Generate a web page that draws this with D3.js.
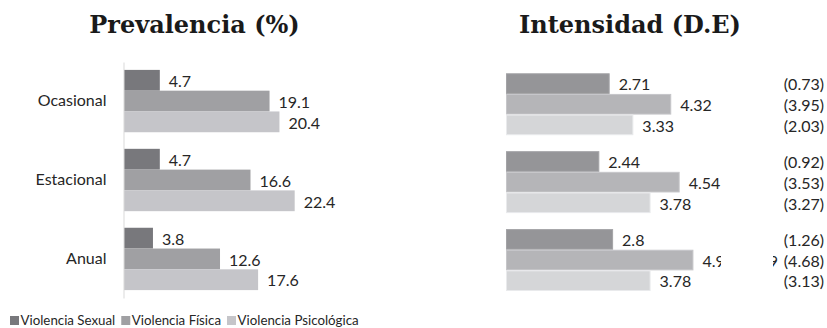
<!DOCTYPE html>
<html>
<head>
<meta charset="utf-8">
<script src="https://cdn.jsdelivr.net/npm/d3@7"></script>
<style>
  html, body { margin: 0; padding: 0; background: #ffffff; }
  svg { display: block; }
</style>
</head>
<body>
<svg id="chart" width="827" height="328"></svg>
<script>
// ---- data ----
const categories = ["Ocasional", "Estacional", "Anual"];
const series = ["Violencia Sexual", "Violencia Física", "Violencia Psicológica"];
const prevalencia = [
  [4.7, 19.1, 20.4],   // Ocasional
  [4.7, 16.6, 22.4],   // Estacional
  [3.8, 12.6, 17.6]    // Anual
];
const intensidad = [
  [2.71, 4.32, 3.33],
  [2.44, 4.54, 3.78],
  [2.8, 4.9, 3.78]
];
const intensidadLabels = [
  ["2.71", "4.32", "3.33"],
  ["2.44", "4.54", "3.78"],
  ["2.8", "4.9", "3.78"]
];
const desviacion = [
  ["(0.73)", "(3.95)", "(2.03)"],
  ["(0.92)", "(3.53)", "(3.27)"],
  ["(1.26)", "(4.68)", "(3.13)"]
];
const titles = ["Prevalencia (%)", "Intensidad (D.E)"];

// ---- styles ----
const leftColors = ["#78787c", "#a0a0a3", "#c5c5c9"];
const rightColors = ["#959598", "#b5b5b8", "#d5d6d8"];
const textFont = "Lato, 'Open Sans', sans-serif";
const labelSize = 16;

const svg = d3.select("#chart");

// ---- titles ----
svg.append("text").attr("x", 194.5).attr("y", 33).attr("text-anchor", "middle")
  .style("font-family", "'DejaVu Serif', serif").style("font-weight", "bold")
  .style("font-size", "24px").attr("fill", "#1a1a1a").text(titles[0]);
svg.append("text").attr("x", 630).attr("y", 33).attr("text-anchor", "middle")
  .style("font-family", "'DejaVu Serif', serif").style("font-weight", "bold")
  .style("font-size", "24px").attr("fill", "#1a1a1a").text(titles[1]);

// ---- left chart ----
const xL = d3.scaleLinear().domain([0, 25]).range([124, 124 + 25 * 7.62]);
const yL = d3.scaleBand().domain(categories).range([62, 298]).paddingInner(0.21).paddingOuter(0.1);
const sL = d3.scaleBand().domain(series).range([0, yL.bandwidth()]);

const gL = svg.append("g");
categories.forEach((c, ci) => {
  series.forEach((s, si) => {
    const v = prevalencia[ci][si];
    const y0 = yL(c) + sL(s);
    gL.append("rect").attr("x", xL(0)).attr("y", y0)
      .attr("width", xL(v) - xL(0)).attr("height", sL.bandwidth())
      .attr("fill", leftColors[si]);
    gL.append("text").attr("x", xL(v) + 9).attr("y", y0 + sL.bandwidth() / 2 + labelSize * 0.36 + 1)
      .style("font-family", textFont).style("font-size", labelSize + "px")
      .attr("fill", "#262626").text(v.toFixed(1));
  });
});
const axL = svg.append("g").attr("transform", `translate(${xL(0) - 0.5},0)`)
  .call(d3.axisLeft(yL).tickSize(0).tickPadding(17));
axL.select(".domain").attr("stroke", "#d9d9d9");
axL.selectAll("text").style("font-family", textFont).style("font-size", labelSize + "px").attr("fill", "#262626");

// ---- right chart ----
const xR = d3.scaleLinear().domain([0, 5]).range([506, 506 + 5 * 38.25]);
const yR = d3.scaleBand().domain(categories).range([65.5, 298.8]).paddingInner(0.205).paddingOuter(0.1);
const sR = d3.scaleBand().domain(series).range([0, yR.bandwidth()]);

const defs = svg.append("defs");
defs.append("clipPath").attr("id", "clipA").append("rect").attr("x", 0).attr("y", 0).attr("width", 721).attr("height", 328);
defs.append("clipPath").attr("id", "clipB").append("rect").attr("x", 773).attr("y", 0).attr("width", 5).attr("height", 328);

const gR = svg.append("g");
categories.forEach((c, ci) => {
  series.forEach((s, si) => {
    const v = intensidad[ci][si];
    const y0 = yR(c) + sR(s);
    const cy = y0 + sR.bandwidth() / 2 + labelSize * 0.36 + 1;
    gR.append("rect").attr("x", xR(0) + 0.5).attr("y", y0 + 0.5)
      .attr("width", xR(v) - xR(0) - 1).attr("height", sR.bandwidth() - 1)
      .attr("fill", rightColors[si]).attr("stroke", d3.color(rightColors[si]).brighter(0.25)).attr("stroke-width", 1);
    const lab = gR.append("text").attr("x", xR(v) + 9).attr("y", cy)
      .style("font-family", textFont).style("font-size", labelSize + "px")
      .attr("fill", "#262626").text(intensidadLabels[ci][si]);
    if (ci === 2 && si === 1) {
      lab.attr("clip-path", "url(#clipA)");
      gR.append("text").attr("x", 778).attr("y", cy).attr("text-anchor", "end")
        .attr("clip-path", "url(#clipB)")
        .style("font-family", textFont).style("font-size", labelSize + "px")
        .attr("fill", "#262626").text("9");
    }
    gR.append("text").attr("x", 824).attr("y", cy).attr("text-anchor", "end")
      .style("font-family", textFont).style("font-size", labelSize + "px")
      .attr("fill", "#262626").text(desviacion[ci][si]);
  });
});

// ---- legend ----
const leg = svg.append("g");
let lx = 10;
series.forEach((s, si) => {
  leg.append("rect").attr("x", lx).attr("y", 316).attr("width", 9).attr("height", 9).attr("fill", leftColors[si]);
  const t = leg.append("text").attr("x", lx + 10.5).attr("y", 324.5)
    .style("font-family", textFont).style("font-size", "13.3px").attr("fill", "#262626").text(s);
  lx += 10.5 + t.node().getComputedTextLength() + 6;
});
</script>
</body>
</html>
